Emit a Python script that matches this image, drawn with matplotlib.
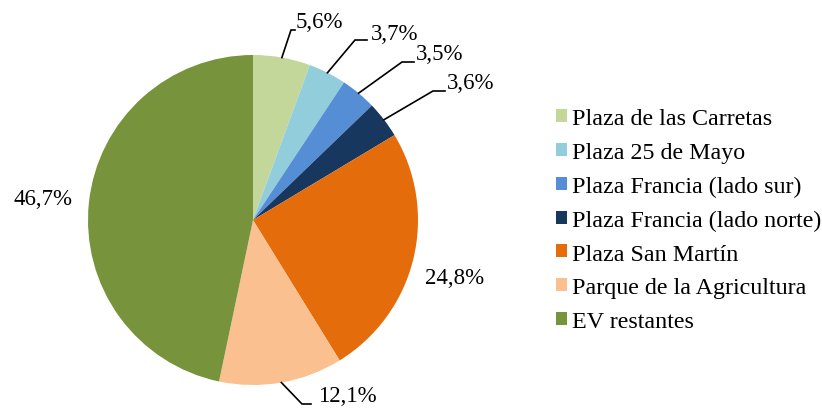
import matplotlib
matplotlib.use("Agg")
import matplotlib.pyplot as plt
import numpy as np

categories = ["Plaza de las Carretas", "Plaza 25 de Mayo", "Plaza Francia (lado sur)",
              "Plaza Francia (lado norte)", "Plaza San Martín", "Parque de la Agricultura",
              "EV restantes"]
values = [5.6, 3.7, 3.5, 3.6, 24.8, 12.1, 46.7]
colors = ["#C4D79B", "#92CDDC", "#558ED5", "#17375E", "#E46C0A", "#FAC090", "#77933C"]

plt.rcParams['font.family'] = ['Liberation Serif', 'DejaVu Serif']

W, H = 822, 410
fig = plt.figure(figsize=(W / 100, H / 100), dpi=100)
cx, cy, R = 253, 221, 165
ax = fig.add_axes([(cx - R) / W, (H - cy - R) / H, 2 * R / W, 2 * R / H])
wedges, _ = ax.pie(values, colors=colors, startangle=90, counterclock=False,
                   radius=1, wedgeprops=dict(linewidth=0))
ax.set_xlim(-1, 1)
ax.set_ylim(-1, 1)
ax.set_aspect('equal')
ax.axis('off')

def p2d(px, py):
    return ((px - cx) / R, (cy - py) / R)

# label layout: (text left px, text center y px, elbow px or None, line end px or None)
layout = [
    (296, 23, (291, 31), (295, 31)),
    (371, 35, (355, 41), (367, 41)),
    (416, 55, (402, 63), (414, 63)),
    (447, 84, (433, 92), (445, 92)),
    (425, 279, None, None),
    (318, 397, (302, 405), (311, 405)),
    (13, 200, None, None),
]

total = sum(values)
cum = 0
for v, (tx, ty, elbow, end) in zip(values, layout):
    mid = 90 - (cum + v / 2) / total * 360
    cum += v
    lab = f"{v:.1f}%".replace(".", ",")
    x, y = p2d(tx, ty)
    ax.text(x, y, lab, ha='left', va='center', fontsize=16.5, clip_on=False)
    if elbow is not None:
        sx, sy = np.cos(np.radians(mid)), np.sin(np.radians(mid))
        ex, ey = p2d(*elbow)
        fx, fy = p2d(*end)
        ax.plot([sx, ex, fx], [sy, ey, fy], color='black', lw=1.2, clip_on=False,
                solid_joinstyle='miter')

fig.legend(wedges, categories, loc='center left',
           bbox_to_anchor=(556 / W, (H - 221) / H), frameon=False,
           fontsize=17.3, handlelength=0.46, handleheight=0.46, handletextpad=0.2,
           labelspacing=0.535, borderaxespad=0, borderpad=0)

fig.savefig("out.png", dpi=100)
